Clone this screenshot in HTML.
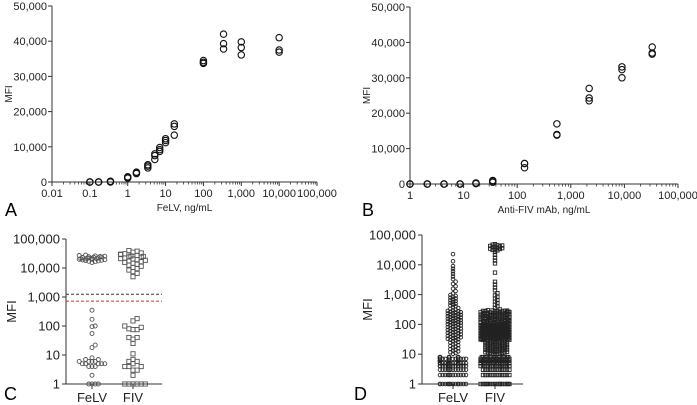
<!DOCTYPE html>
<html><head><meta charset="utf-8">
<style>
html,body{margin:0;padding:0;background:#fff;}
svg{display:block;font-family:"Liberation Sans",sans-serif;}
</style></head>
<body>
<svg id="fig" width="697" height="405" viewBox="0 0 697 405">
<text x="5" y="216" font-size="18">A</text>
<text x="362" y="216" font-size="18">B</text>
<text x="4" y="400" font-size="18">C</text>
<text x="354" y="400" font-size="18">D</text>
</svg>
<script>
// Panel A data
const aConc = [0.1,0.17,0.35,1,1.7,3.4,5.2,7,10,17,100,340,1000,10000];
const aReps = [[0,0,0],[0,0,0],[0,200,100],[1100,1300,1500],[2400,2600,2800],[4000,4500,4900],[6400,7500,8000],[8700,9200,9800],[11200,11800,12300],[13300,15800,16500],[33700,34000,34500],[37800,39300,42000],[36100,38200,39800],[36900,37500,41000]];
const aYTicks = [0,10000,20000,30000,40000,50000];
const aXTicks = [0.01,0.1,1,10,100,1000,10000,100000];
// Panel B data
const bConc = [1,2.1,4.3,8.6,17,35,137,550,2200,9000,33000];
const bReps = [[0,0,0],[0,0,0],[0,0,0],[0,0,0],[100,200,300],[500,800,1000],[4600,5800,5800],[13800,14000,17000],[23500,24300,27000],[30000,32300,33100],[36700,37000,38700]];
const bYTicks = [0,10000,20000,30000,40000,50000];
const bXTicks = [1,10,100,1000,10000,100000];
// Panel C data
const cCats = ["FeLV","FIV"];
const cFeLV = [15500,16500,17000,17500,18000,18500,19000,19500,20000,20000,20500,21000,21000,21500,22000,22000,22500,23000,23500,24000,24500,25000,25500,26000,27000,28000,350,170,100,95,55,22,18,8,7,6,6,6,5,5,5,5,4,4,4,7,6,5,2,1,1,1,1];
const cFIV = [5000,6500,7500,8500,9500,10500,11500,12500,13500,14500,15500,16500,17500,18500,19500,20500,22000,23500,25000,27000,29000,31000,33000,35000,38000,40000,30000,26000,24000,21000,180,150,100,90,80,75,75,40,40,35,25,11,7,6,6,5,4,4,4,3,3,2,1,1,1,1,1,1];
const cCutBlack = 1250;
const cCutRed = 720;
const logTicks = [1,10,100,1000,10000,100000];
const logTickLabels = ["1","10","100","1,000","10,000","100,000"];
// Panel D data (binned counts)
const dIntLevels = [1,2,3,4,5,6,7,8];
const dFeLVIntCounts = [14,12,12,18,18,14,12,12];
const dFIVIntCounts = [16,12,12,20,20,16,14,14];
const dBinEdges = [10,30,100,300,1000,3000,10000,30000,50000];
const dFeLVBinCounts = [18,32,32,18,6,6,2,0];
const dFIVBinCounts = [60,150,90,10,5,1,5,15];

const NS="http://www.w3.org/2000/svg";
const svg=document.getElementById('fig');
function mk(tag,attrs,parent){const e=document.createElementNS(NS,tag);for(const k in attrs)e.setAttribute(k,attrs[k]);(parent||svg).appendChild(e);return e;}
function fmt(v){return v.toLocaleString('en-US');}
const AX='#333';

function panelLinLog(cfg,conc,reps,yTicks,xTicks,name){
  const g=mk('g',{});
  
  
  const lx0=Math.log10(xTicks[0]),lx1=Math.log10(xTicks[xTicks.length-1]);
  const X=v=>cfg.x0+(Math.log10(v)-lx0)/(lx1-lx0)*(cfg.x1-cfg.x0);
  const Y=v=>cfg.y0-(v/yTicks[yTicks.length-1])*(cfg.y0-cfg.y1);
  const ya=mk('line',{x1:cfg.x0,x2:cfg.x0,y1:cfg.y1,y2:cfg.y0,stroke:AX,'stroke-width':1},g);
  
  const xa=mk('line',{x1:cfg.x0,x2:cfg.x1,y1:cfg.y0,y2:cfg.y0,stroke:AX,'stroke-width':1},g);
  
  yTicks.forEach(t=>{
    mk('line',{x1:cfg.x0-4,x2:cfg.x0,y1:Y(t),y2:Y(t),stroke:AX},g);
    const tx=mk('text',{x:cfg.x0-5,y:Y(t)+4,'font-size':11,'text-anchor':'end',fill:'#222'},g);
    tx.textContent=fmt(t);
    
  });
  for(let i=0;i<xTicks.length;i++){
    const t=xTicks[i];
    mk('line',{x1:X(t),x2:X(t),y1:cfg.y0,y2:cfg.y0+4,stroke:AX},g);
    const tx=mk('text',{x:X(t),y:cfg.y0+15,'font-size':11,'text-anchor':'middle',fill:'#222'},g);
    tx.textContent=t<1?String(t):fmt(t);
    
    if(i<xTicks.length-1)for(let m=2;m<10;m++){const v=t*m;mk('line',{x1:X(v),x2:X(v),y1:cfg.y0,y2:cfg.y0+2.5,stroke:AX,'stroke-width':0.8},g);}
  }
  const xl=mk('text',{x:(cfg.x0+cfg.x1)/2,y:cfg.y0+29,'font-size':10,'text-anchor':'middle',fill:'#222'},g);
  xl.textContent=cfg.xlabel;
  const yl=mk('text',{x:0,y:0,'font-size':10,'text-anchor':'middle',fill:'#222',transform:`translate(${cfg.x0-40},${(cfg.y0+cfg.y1)/2}) rotate(-90)`},g);
  yl.textContent='MFI';
  conc.forEach((c,i)=>reps[i].forEach(v=>{
    const p=mk('circle',{cx:X(c),cy:Y(v),r:3.2,fill:'none',stroke:'#111','stroke-width':1.1},g);
    
  }));
}
panelLinLog({x0:52,x1:317,y0:182,y1:6,xlabel:'FeLV, ng/mL'},aConc,aReps,aYTicks,aXTicks,'panel-a');
panelLinLog({x0:410,x1:678,y0:184,y1:7,xlabel:'Anti-FIV mAb, ng/mL'},bConc,bReps,bYTicks,bXTicks,'panel-b');

function swarm(vals,Y,cx,d,maxHalf){
  const sorted=vals.map(v=>({v,y:Y(v)})).sort((a,b)=>b.y-a.y);
  const placed=[];
  const res=[];
  const k=Math.floor(maxHalf/d);
  sorted.forEach((p,i)=>{
    let off=null;
    for(let s=0;s<=k*2;s++){
      const o=(s%2?1:-1)*Math.ceil(s/2)*d;
      if(placed.every(q=>Math.hypot(q.x-(cx+o),q.y-p.y)>=d*0.98)){off=o;break;}
    }
    if(off===null){off=(((i*7)%(4*k+1))/2-k)*d;}
    const pt={x:cx+off,y:p.y};placed.push(pt);res.push(pt);
  });
  return res;
}

function panelCat(cfg,name,groups){
  const g=mk('g',{});
  
  const Y=v=>cfg.y0-Math.log10(v)/5*(cfg.y0-cfg.y1);
  const ya=mk('line',{x1:cfg.x0,x2:cfg.x0,y1:cfg.y1,y2:cfg.y0,stroke:AX},g);
  
  const xa=mk('line',{x1:cfg.x0,x2:cfg.x1,y1:cfg.y0,y2:cfg.y0,stroke:AX},g);
  
  logTicks.forEach((t,i)=>{
    mk('line',{x1:cfg.x0-4,x2:cfg.x0,y1:Y(t),y2:Y(t),stroke:AX},g);
    const tx=mk('text',{x:cfg.x0-6,y:Y(t)+4.5,'font-size':13,'text-anchor':'end',fill:'#222'},g);
    tx.textContent=logTickLabels[i];
  });
  const yl=mk('text',{x:0,y:0,'font-size':13,'text-anchor':'middle',fill:'#222',transform:`translate(${cfg.x0-50},${(cfg.y0+cfg.y1)/2}) rotate(-90)`},g);
  yl.textContent='MFI';
  if(cfg.cuts){
    const l1=mk('line',{x1:cfg.x0,x2:cfg.x1,y1:Y(cfg.cuts[0]),y2:Y(cfg.cuts[0]),stroke:'#333','stroke-dasharray':'3,2'},g);
    
    const l2=mk('line',{x1:cfg.x0,x2:cfg.x1,y1:Y(cfg.cuts[1]),y2:Y(cfg.cuts[1]),stroke:'#c0392b','stroke-dasharray':'3,2'},g);
    
  }
  groups.forEach((gr,gi)=>{
    mk('line',{x1:gr.cx,x2:gr.cx,y1:cfg.y0,y2:cfg.y0+5,stroke:AX},g);
    const tx=mk('text',{x:gr.cx,y:cfg.y0+18,'font-size':13,'text-anchor':'middle',fill:'#222'},g);
    tx.textContent=cCats[gi];
    const pts=swarm(gr.vals,Y,gr.cx,gr.d,gr.maxHalf);
    pts.forEach(p=>{
      let m;
      if(gr.shape==='circle') m=mk('circle',{cx:p.x,cy:p.y,r:gr.size,fill:'none',stroke:gr.color,'stroke-width':gr.sw},g);
      else m=mk('rect',{x:p.x-gr.size,y:p.y-gr.size,width:gr.size*2,height:gr.size*2,fill:'none',stroke:gr.color,'stroke-width':gr.sw},g);
      
    });
  });
}
panelCat({x0:66,x1:162,y0:384,y1:239,cuts:[cCutBlack,cCutRed]},'panel-c',[
  {cx:92,vals:cFeLV,shape:'circle',size:2,d:3.2,maxHalf:13,color:'#555',sw:0.9},
  {cx:133,vals:cFIV,shape:'rect',size:2.1,d:4.1,maxHalf:14,color:'#555',sw:0.9}]);

function expandD(intCounts,binCounts){
  const out=[];
  dIntLevels.forEach((v,i)=>{for(let j=0;j<intCounts[i];j++)out.push(v);});
  binCounts.forEach((n,i)=>{const lo=dBinEdges[i],hi=dBinEdges[i+1];
    for(let j=0;j<n;j++)out.push(lo*Math.pow(hi/lo,(j+0.5)/n));});
  return out;
}
panelCat({x0:422,x1:523,y0:384,y1:235},'panel-d',[
  {cx:453,vals:expandD(dFeLVIntCounts,dFeLVBinCounts),shape:'circle',size:1.8,d:2.6,maxHalf:15,color:'#222',sw:0.9},
  {cx:495,vals:expandD(dFIVIntCounts,dFIVBinCounts),shape:'rect',size:1.7,d:2.4,maxHalf:16,color:'#222',sw:0.9}]);
</script>
</body></html>
